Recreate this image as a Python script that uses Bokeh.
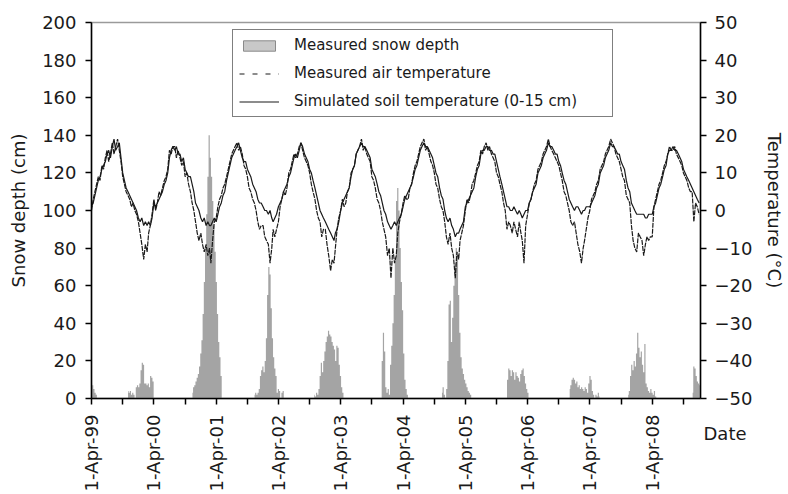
import numpy as np
import pandas as pd
from bokeh.plotting import figure
from bokeh.models import (Range1d, LinearAxis, FixedTicker, DatetimeTickFormatter,
                          Legend, LegendItem, Label)
from bokeh.embed import file_html
from bokeh.resources import INLINE

# ---------------- data ----------------
# temperatures (deg C) on the 1st, 11th and 21st of each month, April -> March
air_1999 = [0, 3, 5, 7, 9, 8, 12, 11, 14, 16, 13, 15, 18, 15, 17, 19, 16, 13,
            9, 7, 5, 4, 3, 1, 2, 0, -1, -3, -6, -9, -13, -9, -11, -6, -4, -1]
soil_1999 = [1, 2, 4, 6, 8, 9, 11, 12, 13, 15, 16, 14, 17, 19, 16, 17, 18, 14,
             10, 8, 6, 5, 4, 3, 2, 1, 0, -2, -3, -2, -4, -3, -4, -3, -4, -2]
air_2000 = [3, 0, 2, 5, 4, 6, 8, 9, 11, 16, 15, 17, 17, 14, 16, 14, 12, 13,
            9, 10, 7, 5, 2, 0, -3, -6, -8, -6, -9, -11, -9, -12, -10, -14, -8, -3]
soil_2000 = [2, 1, 2, 3, 4, 5, 7, 8, 10, 14, 16, 17, 16, 17, 15, 15, 13, 14,
             11, 10, 9, 9, 7, 5, 2, 1, 0, -2, -3, -2, -4, -3, -4, -4, -3, -2]
air_2001 = [-2, 1, 3, 4, 6, 7, 9, 11, 13, 15, 16, 17, 18, 16, 17, 15, 12, 11,
            9, 6, 5, 3, 2, 0, -3, -5, -4, -4, -7, -8, -9, -14, -10, -5, -7, -5]
soil_2001 = [-3, -1, 1, 2, 4, 5, 8, 10, 12, 14, 15, 16, 17, 18, 16, 14, 13, 13,
             11, 10, 9, 7, 6, 5, 3, 2, 2, 1, 0, 0, -1, 0, -2, -3, -2, -1]
air_2002 = [-3, 1, 3, 5, 4, 6, 10, 11, 13, 15, 14, 15, 17, 18, 16, 14, 13, 12,
            10, 7, 5, 3, 0, -2, -3, -7, -5, -5, -9, -12, -16, -13, -14, -10, -5, -2]
soil_2002 = [1, 2, 3, 5, 6, 7, 9, 10, 12, 14, 15, 14, 16, 18, 17, 15, 14, 13,
             11, 10, 8, 6, 4, 2, 0, -1, -2, -3, -4, -5, -6, -7, -8, -6, -5, -3]
air_2003 = [0, 3, 1, 2, 5, 6, 10, 11, 12, 15, 16, 17, 19, 16, 17, 15, 14, 13,
            9, 8, 6, 3, 2, 0, -3, -5, -7, -12, -10, -18, -10, -14, -12, -6, -3, -1]
soil_2003 = [0, 2, 3, 4, 5, 6, 9, 11, 12, 15, 16, 17, 18, 17, 17, 16, 15, 14,
             11, 10, 9, 7, 5, 4, 2, 0, -1, -3, -4, -5, -4, -3, -4, -3, -2, -1]
air_2004 = [2, 4, 3, 3, 6, 7, 10, 12, 13, 15, 17, 18, 19, 16, 17, 15, 13, 12,
            10, 7, 6, 3, 1, 0, -3, -7, -9, -6, -10, -12, -18, -11, -13, -8, -6, -4]
soil_2004 = [1, 3, 4, 5, 6, 7, 9, 11, 12, 14, 16, 17, 18, 17, 17, 16, 15, 14,
             12, 10, 9, 6, 4, 3, 0, -2, -3, -2, -4, -5, -7, -6, -6, -5, -4, -3]
air_2005 = [0, 3, 2, 4, 7, 8, 10, 12, 13, 16, 15, 17, 18, 16, 17, 15, 14, 13,
            10, 9, 7, 5, 2, 0, -5, -3, -4, -6, -3, -5, -7, -3, -6, -8, -14, -4]
soil_2005 = [1, 2, 3, 4, 5, 6, 9, 11, 12, 15, 16, 16, 17, 17, 16, 16, 15, 15,
             13, 11, 9, 7, 5, 3, 1, 1, 0, 0, 1, 0, -1, 0, -1, -2, -1, 0]
air_2006 = [-1, 2, 3, 5, 7, 8, 11, 12, 13, 15, 16, 17, 19, 17, 16, 15, 14, 13,
            12, 10, 8, 5, 4, 2, 0, -3, -4, -3, -6, -9, -11, -14, -10, -8, -5, -2]
soil_2006 = [0, 2, 3, 5, 6, 7, 10, 11, 12, 14, 15, 16, 18, 17, 17, 16, 15, 15,
             13, 12, 10, 8, 7, 5, 3, 2, 1, 0, 1, 1, 0, -1, 0, 0, 1, 1]
air_2007 = [0, 3, 4, 5, 7, 8, 11, 12, 13, 15, 16, 17, 19, 18, 17, 15, 14, 13,
            11, 9, 8, 4, 3, 2, -4, -8, -10, -11, -6, -7, -8, -12, -9, -7, -8, -7]
soil_2007 = [1, 2, 3, 4, 6, 7, 10, 11, 12, 14, 15, 16, 18, 17, 17, 16, 15, 15,
             13, 12, 11, 8, 6, 5, 2, 1, 0, -1, -1, -1, -1, -1, -2, -2, -1, -1]
air_2008 = [-7, 1, 3, 5, 7, 8, 10, 12, 13, 15, 17, 16, 16, 17, 15, 14, 13, 12,
            10, 9, 8, 6, 5, 5, -3, 2, 1, -1]
soil_2008 = [-1, 1, 2, 4, 6, 7, 9, 11, 12, 15, 16, 16, 17, 16, 16, 15, 14, 13,
             11, 10, 9, 8, 7, 6, 5, 4, 3, 2]

# weekly snow depth (cm) per winter, with the date of the first week
snow_1999_start, snow_1999 = "1999-04-01", [8, 7, 5, 3, 2, 0]
snow_2000_start, snow_2000 = "1999-11-01", [4, 3, 4, 2, 3, 2, 0, 6, 7, 6, 8, 15, 19, 18, 8, 8, 7, 8, 6, 12, 11, 9, 0]
snow_2001_start, snow_2001 = "2000-11-13", [3, 6, 7, 9, 11, 13, 17, 24, 31, 45, 62, 80, 98, 118, 140, 128, 118, 105, 92, 78, 62, 45, 30, 22, 12, 0]
snow_2002_start, snow_2002 = "2001-11-12", [2, 3, 2, 3, 5, 12, 15, 17, 14, 20, 32, 55, 70, 66, 48, 32, 22, 16, 12, 3, 5, 4, 0, 3, 4, 0]
snow_2003_start, snow_2003 = "2002-10-28", [2, 1, 3, 2, 5, 12, 19, 14, 20, 25, 30, 33, 36, 34, 33, 30, 28, 26, 20, 28, 27, 18, 12, 6, 3, 0]
snow_2004_start, snow_2004 = "2003-11-24", [0, 20, 35, 25, 6, 3, 5, 2, 18, 28, 40, 55, 75, 105, 112, 100, 80, 62, 47, 24, 10, 5, 2, 0]
snow_2005_start, snow_2005 = "2004-11-15", [3, 6, 2, 0, 5, 20, 50, 52, 30, 43, 60, 72, 80, 75, 55, 35, 22, 16, 13, 10, 8, 6, 4, 3, 2, 0]
snow_2006_start, snow_2006 = "2005-11-28", [0, 10, 16, 15, 12, 15, 14, 10, 14, 12, 11, 9, 13, 15, 16, 12, 8, 5, 3, 0]
snow_2007_start, snow_2007 = "2006-12-04", [5, 7, 10, 11, 10, 8, 9, 6, 7, 5, 6, 5, 4, 6, 5, 3, 8, 12, 10, 4, 2, 0, 2, 1, 3, 1]
snow_2008_start, snow_2008 = "2007-11-12", [2, 4, 12, 18, 15, 20, 17, 24, 35, 27, 22, 25, 18, 14, 29, 8, 6, 4, 3, 5, 3, 2, 4, 1, 0]
snow_2009_start, snow_2009 = "2008-11-24", [3, 17, 16, 12, 9, 8, 7]

snow_ticks = [0, 20, 40, 60, 80, 100, 120, 140, 160, 180, 200]
temp_ticks = [-50, -40, -30, -20, -10, 0, 10, 20, 30, 40, 50]
label_years = [1999, 2000, 2001, 2002, 2003, 2004, 2005, 2006, 2007, 2008]

# ---------------- assemble ----------------
temp_dates = [pd.Timestamp(y if m >= 4 else y + 1, m, d)
              for y in label_years
              for m in (4, 5, 6, 7, 8, 9, 10, 11, 12, 1, 2, 3)
              for d in (1, 11, 21)]
air = (air_1999 + air_2000 + air_2001 + air_2002 + air_2003 + air_2004 +
       air_2005 + air_2006 + air_2007 + air_2008)
soil = (soil_1999 + soil_2000 + soil_2001 + soil_2002 + soil_2003 + soil_2004 +
        soil_2005 + soil_2006 + soil_2007 + soil_2008)
n = min(len(temp_dates), len(air), len(soil))
temp_dates = temp_dates[:n]
air = air[:n]
soil = soil[:n]

seasons = [(snow_1999_start, snow_1999), (snow_2000_start, snow_2000), (snow_2001_start, snow_2001),
           (snow_2002_start, snow_2002), (snow_2003_start, snow_2003), (snow_2004_start, snow_2004),
           (snow_2005_start, snow_2005), (snow_2006_start, snow_2006), (snow_2007_start, snow_2007),
           (snow_2008_start, snow_2008), (snow_2009_start, snow_2009)]


def ms(ts):
    return pd.Timestamp(ts).value / 1e6


FONT = "DejaVu Sans"
INK = "#1a1a1a"
SNOW = "#a4a4a4"

p = figure(width=788, height=494, x_axis_type="datetime",
           x_range=Range1d(ms("1999-04-01"), ms("2009-01-09")),
           y_range=Range1d(0, 200),
           output_backend="svg", toolbar_location=None,
           min_border_left=91, min_border_right=79, min_border_top=22, min_border_bottom=96,
           background_fill_color="white", border_fill_color="white")
p.extra_y_ranges = {"temp": Range1d(-50, 50)}
p.xgrid.grid_line_color = None
p.ygrid.grid_line_color = None
p.outline_line_color = "#9a9a9a"
p.outline_line_width = 1.5

# snow depth columns
for start, vals in seasons:
    d = pd.date_range(start, periods=len(vals), freq="7D")
    p.varea_step(x=d, y1=[0] * len(vals), y2=vals, step_mode="center",
                 fill_color=SNOW, fill_alpha=1)

# temperature lines
p.line(temp_dates, air, y_range_name="temp", line_color=INK, line_width=1.2, line_dash="5 1")
p.line(temp_dates, soil, y_range_name="temp", line_color=INK, line_width=1.2)

# legend proxies (a single NaN row so that nothing is drawn in the plot)
nan = [float("nan")]
leg_snow = p.quad(left=nan, right=nan, top=nan, bottom=nan, fill_color="#c8c8c8",
                  line_color="#8a8a8a", line_width=1)
leg_air = p.line(x=nan, y=nan, line_color=INK, line_width=1.2, line_dash="5 8")
leg_soil = p.line(x=nan, y=nan, line_color=INK, line_width=1.2)

legend = Legend(items=[LegendItem(label="Measured snow depth", renderers=[leg_snow]),
                       LegendItem(label="Measured air temperature", renderers=[leg_air]),
                       LegendItem(label="Simulated soil temperature (0-15 cm)", renderers=[leg_soil])],
                location=(141, 281), orientation="vertical",
                border_line_color="black", border_line_width=1.2,
                background_fill_color="white", background_fill_alpha=1,
                padding=6, spacing=10, margin=0,
                glyph_width=40, glyph_height=13, label_standoff=15, label_width=312,
                label_height=18,
                label_text_font=FONT, label_text_font_size="15px", label_text_color=INK)
p.add_layout(legend)

# axes
xa = p.xaxis[0]
xa.ticker = FixedTicker(ticks=[ms(f"{y}-04-01") for y in label_years],
                        minor_ticks=[ms(f"{y}-10-01") for y in label_years])
fmt = "1-%b-%y"
xa.formatter = DatetimeTickFormatter(years=fmt, months=fmt, days=fmt, hours=fmt,
                                     minutes=fmt, seconds=fmt, milliseconds=fmt)
xa.major_label_orientation = np.pi / 2
xa.minor_tick_out = 6
xa.minor_tick_in = 0
xa.minor_tick_line_color = "black"
xa.major_label_text_font_size = "18px"
xa.major_label_standoff = 10

ya = p.yaxis[0]
ya.ticker = FixedTicker(ticks=snow_ticks)
ya.axis_label = "Snow depth (cm)"
ya.major_label_standoff = 9
ya.axis_label_standoff = 10

ra = LinearAxis(y_range_name="temp", ticker=FixedTicker(ticks=temp_ticks),
                axis_label="Temperature (°C)")
ra.major_label_standoff = 8
ra.axis_label_standoff = 9
p.add_layout(ra, "right")

for ax in (xa, ya, ra):
    ax.axis_line_color = "black"
    ax.axis_line_width = 1.5
    ax.major_tick_line_color = "black"
    ax.major_tick_line_width = 1.5
    ax.major_tick_out = 6
    ax.major_tick_in = 0
    ax.major_label_text_font = FONT
    ax.major_label_text_color = INK
    ax.axis_label_text_font = FONT
    ax.axis_label_text_font_size = "18px"
    ax.axis_label_text_font_style = "normal"
    ax.axis_label_text_color = INK
for ax in (ya, ra):
    ax.major_label_text_font_size = "18px"
    ax.minor_tick_line_color = None
xa.minor_tick_line_width = 1.5

# "Date" caption beside the date labels; it lives in the (otherwise empty) top
# side panel so that it is neither clipped to the frame nor shrinks it
p.add_layout(Label(x=612, y=-411, x_units="screen", y_units="screen", text="Date",
                   text_font=FONT, text_font_size="18px", text_color=INK,
                   text_baseline="middle", text_align="left"), "above")

open("out.html", "w").write(file_html(p, INLINE))
